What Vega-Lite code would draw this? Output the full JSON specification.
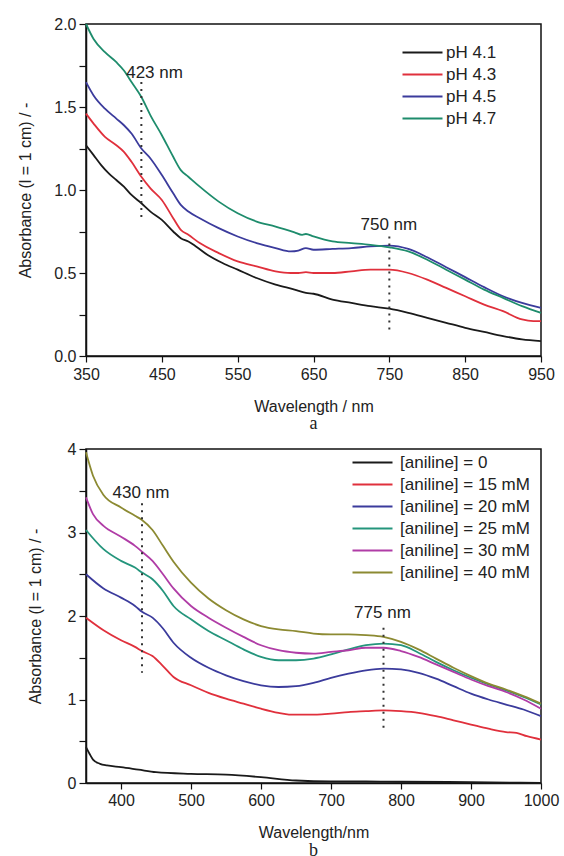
{
  "$schema": "https://vega.github.io/schema/vega-lite/v6.json",
  "background": "white",
  "padding": {"left": 17, "top": 15, "right": 5, "bottom": 0},
  "spacing": 6,
  "resolve": {"scale": {"color": "independent"}, "legend": {"color": "independent"}},
  "config": {
    "font": "Liberation Sans",
    "view": {"stroke": "#111", "strokeWidth": 1.5},
    "axis": {"grid": false, "labelOverlap": false, "domainColor": "#111", "domainWidth": 1.5, "tickColor": "#111", "tickWidth": 1.2, "labelFontSize": 16, "labelColor": "#222", "titleFontSize": 16, "titleFontWeight": "normal", "titleColor": "#222", "labelFont": "Liberation Sans", "titleFont": "Liberation Sans"},
    "legend": {"labelFontSize": 17, "labelColor": "#222", "labelFont": "Liberation Sans"},
    "title": {"font": "Liberation Serif", "fontSize": 18, "fontWeight": "normal", "color": "#222"}
  },
  "datasets": {
    "ph": [
      {"wl":350,"A":1.27,"s":"pH 4.1"},{"wl":360,"A":1.21,"s":"pH 4.1"},{"wl":370,"A":1.15,"s":"pH 4.1"},{"wl":380,"A":1.10,"s":"pH 4.1"},{"wl":390,"A":1.06,"s":"pH 4.1"},{"wl":400,"A":1.02,"s":"pH 4.1"},{"wl":410,"A":0.97,"s":"pH 4.1"},{"wl":423,"A":0.92,"s":"pH 4.1"},{"wl":435,"A":0.87,"s":"pH 4.1"},{"wl":450,"A":0.82,"s":"pH 4.1"},{"wl":465,"A":0.75,"s":"pH 4.1"},{"wl":475,"A":0.71,"s":"pH 4.1"},{"wl":485,"A":0.69,"s":"pH 4.1"},{"wl":495,"A":0.66,"s":"pH 4.1"},{"wl":510,"A":0.61,"s":"pH 4.1"},{"wl":530,"A":0.56,"s":"pH 4.1"},{"wl":550,"A":0.52,"s":"pH 4.1"},{"wl":575,"A":0.47,"s":"pH 4.1"},{"wl":600,"A":0.43,"s":"pH 4.1"},{"wl":625,"A":0.40,"s":"pH 4.1"},{"wl":640,"A":0.38,"s":"pH 4.1"},{"wl":650,"A":0.375,"s":"pH 4.1"},{"wl":675,"A":0.34,"s":"pH 4.1"},{"wl":700,"A":0.32,"s":"pH 4.1"},{"wl":725,"A":0.30,"s":"pH 4.1"},{"wl":750,"A":0.285,"s":"pH 4.1"},{"wl":775,"A":0.26,"s":"pH 4.1"},{"wl":800,"A":0.23,"s":"pH 4.1"},{"wl":825,"A":0.20,"s":"pH 4.1"},{"wl":850,"A":0.17,"s":"pH 4.1"},{"wl":875,"A":0.145,"s":"pH 4.1"},{"wl":900,"A":0.12,"s":"pH 4.1"},{"wl":925,"A":0.10,"s":"pH 4.1"},{"wl":950,"A":0.09,"s":"pH 4.1"},
      {"wl":350,"A":1.46,"s":"pH 4.3"},{"wl":360,"A":1.40,"s":"pH 4.3"},{"wl":375,"A":1.32,"s":"pH 4.3"},{"wl":390,"A":1.27,"s":"pH 4.3"},{"wl":400,"A":1.23,"s":"pH 4.3"},{"wl":410,"A":1.17,"s":"pH 4.3"},{"wl":423,"A":1.08,"s":"pH 4.3"},{"wl":435,"A":1.01,"s":"pH 4.3"},{"wl":450,"A":0.94,"s":"pH 4.3"},{"wl":465,"A":0.83,"s":"pH 4.3"},{"wl":475,"A":0.76,"s":"pH 4.3"},{"wl":485,"A":0.73,"s":"pH 4.3"},{"wl":500,"A":0.68,"s":"pH 4.3"},{"wl":525,"A":0.62,"s":"pH 4.3"},{"wl":550,"A":0.57,"s":"pH 4.3"},{"wl":575,"A":0.54,"s":"pH 4.3"},{"wl":600,"A":0.51,"s":"pH 4.3"},{"wl":620,"A":0.50,"s":"pH 4.3"},{"wl":630,"A":0.50,"s":"pH 4.3"},{"wl":640,"A":0.505,"s":"pH 4.3"},{"wl":650,"A":0.50,"s":"pH 4.3"},{"wl":675,"A":0.50,"s":"pH 4.3"},{"wl":700,"A":0.51,"s":"pH 4.3"},{"wl":725,"A":0.52,"s":"pH 4.3"},{"wl":750,"A":0.52,"s":"pH 4.3"},{"wl":775,"A":0.50,"s":"pH 4.3"},{"wl":800,"A":0.46,"s":"pH 4.3"},{"wl":825,"A":0.41,"s":"pH 4.3"},{"wl":850,"A":0.36,"s":"pH 4.3"},{"wl":875,"A":0.31,"s":"pH 4.3"},{"wl":900,"A":0.27,"s":"pH 4.3"},{"wl":925,"A":0.22,"s":"pH 4.3"},{"wl":940,"A":0.21,"s":"pH 4.3"},{"wl":950,"A":0.21,"s":"pH 4.3"},
      {"wl":350,"A":1.65,"s":"pH 4.5"},{"wl":360,"A":1.57,"s":"pH 4.5"},{"wl":375,"A":1.49,"s":"pH 4.5"},{"wl":390,"A":1.43,"s":"pH 4.5"},{"wl":400,"A":1.39,"s":"pH 4.5"},{"wl":410,"A":1.34,"s":"pH 4.5"},{"wl":423,"A":1.25,"s":"pH 4.5"},{"wl":435,"A":1.19,"s":"pH 4.5"},{"wl":450,"A":1.09,"s":"pH 4.5"},{"wl":465,"A":0.98,"s":"pH 4.5"},{"wl":475,"A":0.91,"s":"pH 4.5"},{"wl":485,"A":0.87,"s":"pH 4.5"},{"wl":500,"A":0.83,"s":"pH 4.5"},{"wl":525,"A":0.77,"s":"pH 4.5"},{"wl":550,"A":0.72,"s":"pH 4.5"},{"wl":575,"A":0.68,"s":"pH 4.5"},{"wl":600,"A":0.65,"s":"pH 4.5"},{"wl":620,"A":0.63,"s":"pH 4.5"},{"wl":630,"A":0.635,"s":"pH 4.5"},{"wl":640,"A":0.65,"s":"pH 4.5"},{"wl":650,"A":0.64,"s":"pH 4.5"},{"wl":675,"A":0.645,"s":"pH 4.5"},{"wl":700,"A":0.65,"s":"pH 4.5"},{"wl":725,"A":0.66,"s":"pH 4.5"},{"wl":750,"A":0.665,"s":"pH 4.5"},{"wl":775,"A":0.645,"s":"pH 4.5"},{"wl":800,"A":0.595,"s":"pH 4.5"},{"wl":825,"A":0.535,"s":"pH 4.5"},{"wl":850,"A":0.475,"s":"pH 4.5"},{"wl":875,"A":0.415,"s":"pH 4.5"},{"wl":900,"A":0.36,"s":"pH 4.5"},{"wl":925,"A":0.32,"s":"pH 4.5"},{"wl":950,"A":0.29,"s":"pH 4.5"},
      {"wl":350,"A":2.0,"s":"pH 4.7"},{"wl":360,"A":1.91,"s":"pH 4.7"},{"wl":375,"A":1.83,"s":"pH 4.7"},{"wl":390,"A":1.77,"s":"pH 4.7"},{"wl":400,"A":1.72,"s":"pH 4.7"},{"wl":410,"A":1.65,"s":"pH 4.7"},{"wl":423,"A":1.56,"s":"pH 4.7"},{"wl":435,"A":1.45,"s":"pH 4.7"},{"wl":450,"A":1.33,"s":"pH 4.7"},{"wl":465,"A":1.20,"s":"pH 4.7"},{"wl":475,"A":1.12,"s":"pH 4.7"},{"wl":485,"A":1.08,"s":"pH 4.7"},{"wl":500,"A":1.02,"s":"pH 4.7"},{"wl":525,"A":0.93,"s":"pH 4.7"},{"wl":550,"A":0.86,"s":"pH 4.7"},{"wl":575,"A":0.81,"s":"pH 4.7"},{"wl":600,"A":0.78,"s":"pH 4.7"},{"wl":625,"A":0.745,"s":"pH 4.7"},{"wl":635,"A":0.73,"s":"pH 4.7"},{"wl":640,"A":0.735,"s":"pH 4.7"},{"wl":650,"A":0.72,"s":"pH 4.7"},{"wl":675,"A":0.69,"s":"pH 4.7"},{"wl":700,"A":0.68,"s":"pH 4.7"},{"wl":725,"A":0.67,"s":"pH 4.7"},{"wl":750,"A":0.655,"s":"pH 4.7"},{"wl":775,"A":0.63,"s":"pH 4.7"},{"wl":800,"A":0.58,"s":"pH 4.7"},{"wl":825,"A":0.52,"s":"pH 4.7"},{"wl":850,"A":0.46,"s":"pH 4.7"},{"wl":875,"A":0.40,"s":"pH 4.7"},{"wl":900,"A":0.35,"s":"pH 4.7"},{"wl":925,"A":0.30,"s":"pH 4.7"},{"wl":950,"A":0.26,"s":"pH 4.7"}
    ],
    "an": [
      {"wl":350,"A":0.43,"s":"[aniline] = 0"},{"wl":355,"A":0.35,"s":"[aniline] = 0"},{"wl":360,"A":0.28,"s":"[aniline] = 0"},{"wl":370,"A":0.23,"s":"[aniline] = 0"},{"wl":380,"A":0.21,"s":"[aniline] = 0"},{"wl":400,"A":0.19,"s":"[aniline] = 0"},{"wl":425,"A":0.16,"s":"[aniline] = 0"},{"wl":450,"A":0.13,"s":"[aniline] = 0"},{"wl":500,"A":0.11,"s":"[aniline] = 0"},{"wl":550,"A":0.10,"s":"[aniline] = 0"},{"wl":600,"A":0.07,"s":"[aniline] = 0"},{"wl":650,"A":0.03,"s":"[aniline] = 0"},{"wl":700,"A":0.02,"s":"[aniline] = 0"},{"wl":750,"A":0.02,"s":"[aniline] = 0"},{"wl":800,"A":0.015,"s":"[aniline] = 0"},{"wl":900,"A":0.01,"s":"[aniline] = 0"},{"wl":1000,"A":0.0,"s":"[aniline] = 0"},
      {"wl":350,"A":1.98,"s":"[aniline] = 15 mM"},{"wl":375,"A":1.83,"s":"[aniline] = 15 mM"},{"wl":400,"A":1.71,"s":"[aniline] = 15 mM"},{"wl":420,"A":1.63,"s":"[aniline] = 15 mM"},{"wl":430,"A":1.58,"s":"[aniline] = 15 mM"},{"wl":445,"A":1.52,"s":"[aniline] = 15 mM"},{"wl":460,"A":1.40,"s":"[aniline] = 15 mM"},{"wl":475,"A":1.27,"s":"[aniline] = 15 mM"},{"wl":500,"A":1.17,"s":"[aniline] = 15 mM"},{"wl":525,"A":1.08,"s":"[aniline] = 15 mM"},{"wl":550,"A":1.01,"s":"[aniline] = 15 mM"},{"wl":575,"A":0.95,"s":"[aniline] = 15 mM"},{"wl":600,"A":0.89,"s":"[aniline] = 15 mM"},{"wl":625,"A":0.84,"s":"[aniline] = 15 mM"},{"wl":640,"A":0.82,"s":"[aniline] = 15 mM"},{"wl":660,"A":0.82,"s":"[aniline] = 15 mM"},{"wl":680,"A":0.82,"s":"[aniline] = 15 mM"},{"wl":700,"A":0.83,"s":"[aniline] = 15 mM"},{"wl":725,"A":0.85,"s":"[aniline] = 15 mM"},{"wl":750,"A":0.86,"s":"[aniline] = 15 mM"},{"wl":775,"A":0.87,"s":"[aniline] = 15 mM"},{"wl":800,"A":0.86,"s":"[aniline] = 15 mM"},{"wl":825,"A":0.84,"s":"[aniline] = 15 mM"},{"wl":850,"A":0.80,"s":"[aniline] = 15 mM"},{"wl":875,"A":0.75,"s":"[aniline] = 15 mM"},{"wl":900,"A":0.70,"s":"[aniline] = 15 mM"},{"wl":925,"A":0.65,"s":"[aniline] = 15 mM"},{"wl":950,"A":0.61,"s":"[aniline] = 15 mM"},{"wl":965,"A":0.60,"s":"[aniline] = 15 mM"},{"wl":980,"A":0.56,"s":"[aniline] = 15 mM"},{"wl":1000,"A":0.52,"s":"[aniline] = 15 mM"},
      {"wl":350,"A":2.50,"s":"[aniline] = 20 mM"},{"wl":375,"A":2.33,"s":"[aniline] = 20 mM"},{"wl":400,"A":2.22,"s":"[aniline] = 20 mM"},{"wl":420,"A":2.12,"s":"[aniline] = 20 mM"},{"wl":430,"A":2.05,"s":"[aniline] = 20 mM"},{"wl":445,"A":1.98,"s":"[aniline] = 20 mM"},{"wl":460,"A":1.85,"s":"[aniline] = 20 mM"},{"wl":475,"A":1.68,"s":"[aniline] = 20 mM"},{"wl":500,"A":1.50,"s":"[aniline] = 20 mM"},{"wl":525,"A":1.38,"s":"[aniline] = 20 mM"},{"wl":550,"A":1.29,"s":"[aniline] = 20 mM"},{"wl":575,"A":1.22,"s":"[aniline] = 20 mM"},{"wl":600,"A":1.17,"s":"[aniline] = 20 mM"},{"wl":625,"A":1.15,"s":"[aniline] = 20 mM"},{"wl":650,"A":1.16,"s":"[aniline] = 20 mM"},{"wl":675,"A":1.20,"s":"[aniline] = 20 mM"},{"wl":700,"A":1.26,"s":"[aniline] = 20 mM"},{"wl":725,"A":1.31,"s":"[aniline] = 20 mM"},{"wl":750,"A":1.35,"s":"[aniline] = 20 mM"},{"wl":775,"A":1.37,"s":"[aniline] = 20 mM"},{"wl":800,"A":1.36,"s":"[aniline] = 20 mM"},{"wl":825,"A":1.32,"s":"[aniline] = 20 mM"},{"wl":850,"A":1.25,"s":"[aniline] = 20 mM"},{"wl":875,"A":1.16,"s":"[aniline] = 20 mM"},{"wl":900,"A":1.07,"s":"[aniline] = 20 mM"},{"wl":925,"A":1.00,"s":"[aniline] = 20 mM"},{"wl":950,"A":0.94,"s":"[aniline] = 20 mM"},{"wl":975,"A":0.88,"s":"[aniline] = 20 mM"},{"wl":1000,"A":0.80,"s":"[aniline] = 20 mM"},
      {"wl":350,"A":3.03,"s":"[aniline] = 25 mM"},{"wl":375,"A":2.80,"s":"[aniline] = 25 mM"},{"wl":400,"A":2.66,"s":"[aniline] = 25 mM"},{"wl":420,"A":2.58,"s":"[aniline] = 25 mM"},{"wl":430,"A":2.52,"s":"[aniline] = 25 mM"},{"wl":445,"A":2.44,"s":"[aniline] = 25 mM"},{"wl":460,"A":2.30,"s":"[aniline] = 25 mM"},{"wl":475,"A":2.12,"s":"[aniline] = 25 mM"},{"wl":500,"A":1.96,"s":"[aniline] = 25 mM"},{"wl":525,"A":1.82,"s":"[aniline] = 25 mM"},{"wl":550,"A":1.71,"s":"[aniline] = 25 mM"},{"wl":575,"A":1.60,"s":"[aniline] = 25 mM"},{"wl":600,"A":1.51,"s":"[aniline] = 25 mM"},{"wl":625,"A":1.47,"s":"[aniline] = 25 mM"},{"wl":650,"A":1.47,"s":"[aniline] = 25 mM"},{"wl":675,"A":1.49,"s":"[aniline] = 25 mM"},{"wl":700,"A":1.54,"s":"[aniline] = 25 mM"},{"wl":725,"A":1.60,"s":"[aniline] = 25 mM"},{"wl":750,"A":1.65,"s":"[aniline] = 25 mM"},{"wl":775,"A":1.67,"s":"[aniline] = 25 mM"},{"wl":800,"A":1.65,"s":"[aniline] = 25 mM"},{"wl":825,"A":1.56,"s":"[aniline] = 25 mM"},{"wl":850,"A":1.45,"s":"[aniline] = 25 mM"},{"wl":875,"A":1.35,"s":"[aniline] = 25 mM"},{"wl":900,"A":1.26,"s":"[aniline] = 25 mM"},{"wl":925,"A":1.18,"s":"[aniline] = 25 mM"},{"wl":950,"A":1.11,"s":"[aniline] = 25 mM"},{"wl":975,"A":1.03,"s":"[aniline] = 25 mM"},{"wl":1000,"A":0.94,"s":"[aniline] = 25 mM"},
      {"wl":350,"A":3.42,"s":"[aniline] = 30 mM"},{"wl":360,"A":3.22,"s":"[aniline] = 30 mM"},{"wl":375,"A":3.08,"s":"[aniline] = 30 mM"},{"wl":400,"A":2.95,"s":"[aniline] = 30 mM"},{"wl":420,"A":2.84,"s":"[aniline] = 30 mM"},{"wl":430,"A":2.77,"s":"[aniline] = 30 mM"},{"wl":445,"A":2.66,"s":"[aniline] = 30 mM"},{"wl":460,"A":2.50,"s":"[aniline] = 30 mM"},{"wl":475,"A":2.33,"s":"[aniline] = 30 mM"},{"wl":500,"A":2.12,"s":"[aniline] = 30 mM"},{"wl":525,"A":1.98,"s":"[aniline] = 30 mM"},{"wl":550,"A":1.86,"s":"[aniline] = 30 mM"},{"wl":575,"A":1.75,"s":"[aniline] = 30 mM"},{"wl":600,"A":1.65,"s":"[aniline] = 30 mM"},{"wl":625,"A":1.59,"s":"[aniline] = 30 mM"},{"wl":650,"A":1.56,"s":"[aniline] = 30 mM"},{"wl":675,"A":1.55,"s":"[aniline] = 30 mM"},{"wl":700,"A":1.57,"s":"[aniline] = 30 mM"},{"wl":725,"A":1.59,"s":"[aniline] = 30 mM"},{"wl":750,"A":1.62,"s":"[aniline] = 30 mM"},{"wl":775,"A":1.62,"s":"[aniline] = 30 mM"},{"wl":800,"A":1.58,"s":"[aniline] = 30 mM"},{"wl":825,"A":1.51,"s":"[aniline] = 30 mM"},{"wl":850,"A":1.42,"s":"[aniline] = 30 mM"},{"wl":875,"A":1.33,"s":"[aniline] = 30 mM"},{"wl":900,"A":1.24,"s":"[aniline] = 30 mM"},{"wl":925,"A":1.16,"s":"[aniline] = 30 mM"},{"wl":950,"A":1.09,"s":"[aniline] = 30 mM"},{"wl":975,"A":1.00,"s":"[aniline] = 30 mM"},{"wl":1000,"A":0.89,"s":"[aniline] = 30 mM"},
      {"wl":350,"A":3.96,"s":"[aniline] = 40 mM"},{"wl":360,"A":3.68,"s":"[aniline] = 40 mM"},{"wl":375,"A":3.45,"s":"[aniline] = 40 mM"},{"wl":400,"A":3.30,"s":"[aniline] = 40 mM"},{"wl":420,"A":3.20,"s":"[aniline] = 40 mM"},{"wl":430,"A":3.15,"s":"[aniline] = 40 mM"},{"wl":445,"A":3.03,"s":"[aniline] = 40 mM"},{"wl":460,"A":2.84,"s":"[aniline] = 40 mM"},{"wl":475,"A":2.65,"s":"[aniline] = 40 mM"},{"wl":500,"A":2.40,"s":"[aniline] = 40 mM"},{"wl":525,"A":2.21,"s":"[aniline] = 40 mM"},{"wl":550,"A":2.07,"s":"[aniline] = 40 mM"},{"wl":575,"A":1.96,"s":"[aniline] = 40 mM"},{"wl":600,"A":1.88,"s":"[aniline] = 40 mM"},{"wl":625,"A":1.84,"s":"[aniline] = 40 mM"},{"wl":650,"A":1.82,"s":"[aniline] = 40 mM"},{"wl":675,"A":1.79,"s":"[aniline] = 40 mM"},{"wl":700,"A":1.78,"s":"[aniline] = 40 mM"},{"wl":725,"A":1.78,"s":"[aniline] = 40 mM"},{"wl":750,"A":1.77,"s":"[aniline] = 40 mM"},{"wl":775,"A":1.75,"s":"[aniline] = 40 mM"},{"wl":800,"A":1.69,"s":"[aniline] = 40 mM"},{"wl":825,"A":1.60,"s":"[aniline] = 40 mM"},{"wl":850,"A":1.49,"s":"[aniline] = 40 mM"},{"wl":875,"A":1.38,"s":"[aniline] = 40 mM"},{"wl":900,"A":1.28,"s":"[aniline] = 40 mM"},{"wl":925,"A":1.19,"s":"[aniline] = 40 mM"},{"wl":950,"A":1.12,"s":"[aniline] = 40 mM"},{"wl":975,"A":1.04,"s":"[aniline] = 40 mM"},{"wl":1000,"A":0.95,"s":"[aniline] = 40 mM"}
    ],
    "markA": [
      {"wl":423,"y1":1.65,"y2":0.82,"label":"423 nm","tx":403,"ty":1.675},
      {"wl":750,"y1":0.72,"y2":0.16,"label":"750 nm","tx":712,"ty":0.76}
    ],
    "markB": [
      {"wl":430,"y1":3.35,"y2":1.32,"label":"430 nm","tx":388,"ty":3.41},
      {"wl":775,"y1":1.86,"y2":0.66,"label":"775 nm","tx":733,"ty":1.98}
    ]
  },
  "vconcat": [
    {
      "width": 455,
      "height": 332,
      "title": {"text": "a", "orient": "bottom", "offset": 1},
      "layer": [
        {
          "data": {"name": "ph"},
          "mark": {"type": "line", "strokeWidth": 1.8, "interpolate": "monotone"},
          "encoding": {
            "x": {"field": "wl", "type": "quantitative", "scale": {"domain": [350, 950], "nice": false},
              "axis": {"title": "Wavelength / nm", "values": [350,400,450,500,550,600,650,700,750,800,850,900,950],
                "labelExpr": "datum.value % 100 == 50 ? datum.label : ''",
                "tickSize": 6, "labelPadding": 4, "titlePadding": 16, "labelFlush": false, "labelOverlap": false}},
            "y": {"field": "A", "type": "quantitative", "scale": {"domain": [0, 2], "nice": false},
              "axis": {"title": "Absorbance (l = 1 cm) / -", "values": [0,0.25,0.5,0.75,1,1.25,1.5,1.75,2],
                "labelExpr": "round(datum.value*4) % 2 == 0 ? format(datum.value, '.1f') : ''",
                "tickSize": 7, "labelPadding": 3, "titlePadding": 20}},
            "color": {"field": "s", "type": "nominal",
              "scale": {"domain": ["pH 4.1","pH 4.3","pH 4.5","pH 4.7"], "range": ["#1a1a1a","#e0303c","#3b3b9c","#1e8c6c"]},
              "legend": {"title": null, "orient": "none", "legendX": 343, "legendY": 20, "symbolType": "M-7,0H1", "symbolSize": 100, "symbolStrokeWidth": 2, "labelOffset": 0, "rowPadding": 4, "padding": 0}}
          }
        },
        {
          "data": {"name": "markA"},
          "mark": {"type": "rule", "strokeDash": [2, 5], "strokeWidth": 2, "color": "#333"},
          "encoding": {"x": {"field": "wl", "type": "quantitative"}, "y": {"field": "y1", "type": "quantitative"}, "y2": {"field": "y2"}}
        },
        {
          "data": {"name": "markA"},
          "mark": {"type": "text", "align": "left", "baseline": "alphabetic", "fontSize": 17, "color": "#222"},
          "encoding": {"x": {"field": "tx", "type": "quantitative"}, "y": {"field": "ty", "type": "quantitative"}, "text": {"field": "label"}}
        }
      ]
    },
    {
      "width": 455,
      "height": 334,
      "title": {"text": "b", "orient": "bottom", "offset": 2},
      "layer": [
        {
          "data": {"name": "an"},
          "mark": {"type": "line", "strokeWidth": 1.8, "interpolate": "monotone"},
          "encoding": {
            "x": {"field": "wl", "type": "quantitative", "scale": {"domain": [350, 1000], "nice": false},
              "axis": {"title": "Wavelength/nm", "values": [400,450,500,550,600,650,700,750,800,850,900,950,1000],
                "format": "d", "labelExpr": "datum.value % 100 == 0 ? datum.label : ''",
                "tickSize": 6, "labelPadding": 3, "titlePadding": 16, "labelFlush": false, "labelOverlap": false}},
            "y": {"field": "A", "type": "quantitative", "scale": {"domain": [0, 4], "nice": false},
              "axis": {"title": "Absorbance (l = 1 cm) / -", "values": [0,0.5,1,1.5,2,2.5,3,3.5,4],
                "labelExpr": "round(datum.value*2) % 2 == 0 ? format(datum.value, 'd') : ''",
                "tickSize": 7, "labelPadding": 3, "titlePadding": 24}},
            "color": {"field": "s", "type": "nominal",
              "scale": {"domain": ["[aniline] = 0","[aniline] = 15 mM","[aniline] = 20 mM","[aniline] = 25 mM","[aniline] = 30 mM","[aniline] = 40 mM"], "range": ["#1a1a1a","#e0303c","#3b3b9c","#24957c","#b03ca6","#8c8a32"]},
              "legend": {"title": null, "orient": "none", "legendX": 293, "legendY": 5, "symbolType": "M-7,0H1", "symbolSize": 100, "symbolStrokeWidth": 2, "labelOffset": 4, "rowPadding": 4, "padding": 0}}
          }
        },
        {
          "data": {"name": "markB"},
          "mark": {"type": "rule", "strokeDash": [2, 5], "strokeWidth": 2, "color": "#333"},
          "encoding": {"x": {"field": "wl", "type": "quantitative"}, "y": {"field": "y1", "type": "quantitative"}, "y2": {"field": "y2"}}
        },
        {
          "data": {"name": "markB"},
          "mark": {"type": "text", "align": "left", "baseline": "alphabetic", "fontSize": 17, "color": "#222"},
          "encoding": {"x": {"field": "tx", "type": "quantitative"}, "y": {"field": "ty", "type": "quantitative"}, "text": {"field": "label"}}
        }
      ]
    }
  ]
}
